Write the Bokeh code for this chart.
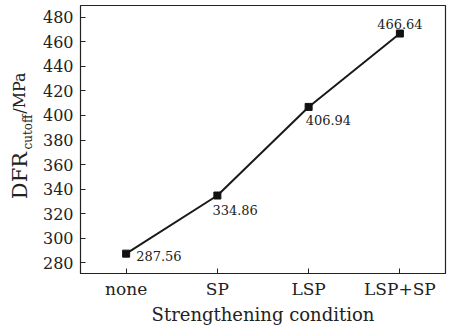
import math
from bokeh.plotting import figure
from bokeh.layouts import row
from bokeh.models import ColumnDataSource, FixedTicker, Range1d
from bokeh.core.properties import value
from bokeh.embed import file_html
from bokeh.resources import INLINE

# ---- data ----
conditions = ["none", "SP", "LSP", "LSP+SP"]
dfr_cutoff = [287.56, 334.86, 406.94, 466.64]
value_labels = ["287.56", "334.86", "406.94", "466.64"]
y_ticks = [280, 300, 320, 340, 360, 380, 400, 420, 440, 460, 480]

# ---- styles (label placement in screen px) ----
lab_dx = [10, -5, -3, 0]
lab_dy = [2, 14, 13, -10]
lab_align = ["left", "left", "left", "center"]

FONT = "DejaVu Serif"
INK = "#222222"

xs = list(range(len(conditions)))
src = ColumnDataSource(dict(x=xs, y=dfr_cutoff, t=value_labels,
                            dx=lab_dx, dy=lab_dy, al=lab_align))

yr = Range1d(271.4, 489.45)
LEFT_W = 36

p = figure(width=453 - LEFT_W, height=327, output_backend="svg",
           toolbar_location=None,
           x_range=Range1d(-0.5, 3.5), y_range=yr,
           min_border_left=80 - LEFT_W, min_border_right=8, min_border_top=5,
           min_border_bottom=52)
p.background_fill_color = "white"
p.border_fill_color = "white"
p.outline_line_color = INK
p.outline_line_width = 1.2
p.xgrid.visible = False
p.ygrid.visible = False

p.line("x", "y", source=src, line_color="#1a1a1a", line_width=2)
p.scatter("x", "y", source=src, marker="square", size=7,
          fill_color="#111111", line_color="#111111")
p.text("x", "y", text="t", source=src, x_offset="dx", y_offset="dy",
       text_align="al", text_baseline="middle",
       text_font=value(FONT), text_font_size="13px", text_color=INK)

for ax in (p.xaxis[0], p.yaxis[0]):
    ax.major_tick_in = 5
    ax.major_tick_out = 0
    ax.minor_tick_line_color = None
    ax.axis_line_color = INK
    ax.major_tick_line_color = INK
    ax.major_label_text_font = FONT
    ax.major_label_text_color = INK

p.xaxis.ticker = FixedTicker(ticks=xs)
p.xaxis.major_label_overrides = {i: c for i, c in enumerate(conditions)}
p.xaxis.major_label_text_font_size = "17px"
p.xaxis.major_label_standoff = 5
p.xaxis.axis_label = "Strengthening condition"
p.xaxis.axis_label_text_font = FONT
p.xaxis.axis_label_text_font_size = "18px"
p.xaxis.axis_label_text_font_style = "normal"
p.xaxis.axis_label_text_color = INK
p.xaxis.axis_label_standoff = 2

p.yaxis.ticker = FixedTicker(ticks=y_ticks)
p.yaxis.major_label_text_font_size = "16px"
p.yaxis.major_label_standoff = 7

# ---- y-axis title panel: DFR_cutoff /MPa ----
q = figure(width=LEFT_W, height=327, output_backend="svg",
           toolbar_location=None, x_range=Range1d(0, LEFT_W), y_range=yr,
           min_border_left=0, min_border_right=0, min_border_top=5,
           min_border_bottom=52)
q.axis.visible = False
q.grid.visible = False
q.outline_line_color = None
q.background_fill_color = "white"
q.border_fill_color = "white"

title_parts = ["DFR", "cutoff", "/MPa"]
title_x = [19, 27, 19]
title_y = [331.9, 372.3, 401.4]
title_size = ["21px", "12px", "16px"]
tsrc = ColumnDataSource(dict(x=title_x, y=title_y, t=title_parts, s=title_size))
q.text("x", "y", text="t", source=tsrc, angle=math.pi / 2,
       text_font=value(FONT), text_font_size="s", text_color=INK,
       text_align="left", text_baseline="alphabetic")

layout = row(q, p, spacing=0)
open("out.html", "w").write(file_html(layout, INLINE))
